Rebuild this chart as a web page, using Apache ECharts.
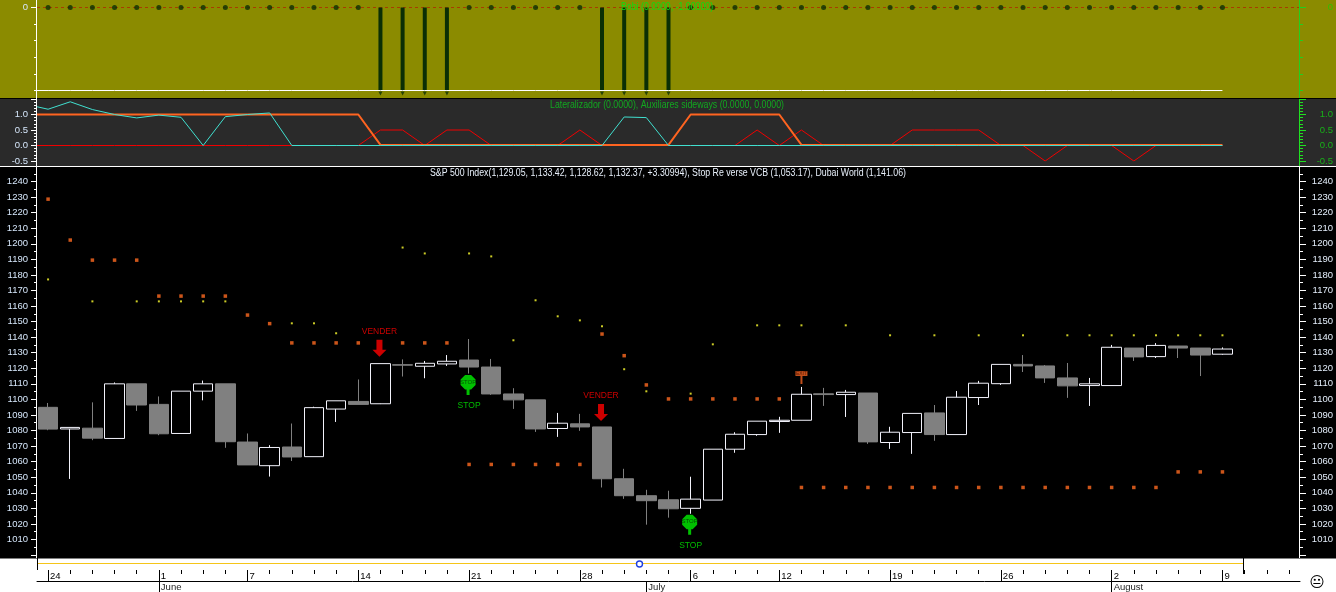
<!DOCTYPE html>
<html>
<head>
<meta charset="utf-8">
<style>html,body{margin:0;padding:0;background:#fff}#main{width:1336px;height:592px}</style>
<script src="https://cdn.jsdelivr.net/npm/echarts@6/dist/echarts.min.js"></script>
</head>
<body>
<div id="main"></div>
<script>
// dates, May 24 to Aug 12 (last three have no bar yet)
var categories = ['05-24','05-25','05-26','05-27','05-28','06-01','06-02','06-03','06-04','06-07','06-08','06-09','06-10','06-11','06-14','06-15','06-16','06-17','06-18','06-21','06-22','06-23','06-24','06-25','06-28','06-29','06-30','07-01','07-02','07-06','07-07','07-08','07-09','07-12','07-13','07-14','07-15','07-16','07-19','07-20','07-21','07-22','07-23','07-26','07-27','07-28','07-29','07-30','08-02','08-03','08-04','08-05','08-06','08-09','08-10','08-11','08-12'];
var dayTicks = ['05-24','06-01','06-07','06-14','06-21','06-28','07-06','07-12','07-19','07-26','08-02','08-09'];
var monthTicks = {'06-01':'June','07-01':'July','08-02':'August'};

// S&P 500 bars
var opens = [1094.9,1081,1081.5,1074.9,1110,1096.8,1078.1,1105.3,1110,1072.6,1057.4,1069.4,1063.2,1093.8,1098.7,1097.2,1122.3,1121.3,1122.8,1125.3,1120.8,1103.5,1099.7,1081.3,1084.3,1082.3,1049,1038.1,1035.5,1030,1035.3,1068,1077.4,1085.8,1086.6,1103.6,1103.1,1104.1,1072.3,1078.7,1091.3,1077.4,1101.2,1110.1,1122.5,1121.5,1113.8,1108.9,1108.9,1133,1127.5,1134.3,1133,1129.05];
var closes = [1080.9,1082,1075.1,1110,1096.4,1077.9,1105.3,1110,1072.8,1057.9,1069.1,1063,1094.7,1099.1,1096.8,1123,1122,1123.2,1124.5,1120.8,1103.5,1099.7,1081,1084.7,1082.3,1049,1038.1,1034.9,1029.7,1035.9,1068,1077.6,1086,1086.6,1103.3,1103.1,1104.6,1072.7,1078.9,1091,1077.4,1101.4,1110.4,1122.5,1121.5,1113.8,1108.7,1110,1133.5,1127.3,1134.7,1133,1128.5,1132.37];
var lows = [1080.2,1048.9,1073.8,1074.9,1092.6,1077,1078.1,1099.4,1068.9,1057.9,1050.4,1060.4,1063.2,1085.5,1096.8,1097,1114.7,1113.6,1121.5,1116.6,1102.9,1093.9,1079.1,1075.9,1079.8,1043.4,1036.1,1019.5,1024,1026.5,1035.3,1065.7,1076.6,1078.5,1086.6,1095.8,1088.7,1071.4,1068.2,1065,1073.4,1077.4,1096.4,1109.3,1117.6,1110.6,1101,1095.8,1108.9,1124.7,1126.6,1126.6,1115,1128.62];
var highs = [1097.7,1082,1098.1,1110.9,1110,1101.9,1105.3,1112.1,1110,1078.1,1070.6,1084.5,1095.3,1099.1,1112.8,1123,1125.7,1124.7,1128.5,1138.8,1126,1107.2,1099.7,1091.3,1090.7,1082.3,1055.4,1041.9,1041.3,1050.3,1068,1078.9,1086,1088.8,1108,1107.4,1106.1,1104.1,1082.4,1091,1096.4,1105.4,1111.9,1122.5,1128.5,1122.1,1123.4,1113.8,1135,1133,1136.2,1134.3,1133,1133.42];

// overlays on the price panel
var stopReverse = [1228.7,1202.4,1189.5,1189.5,1189.5,1166.4,1166.4,1166.4,1166.4,1154.2,1148.7,1136.3,1136.3,1136.3,1136.3,null,1136.3,1136.3,1136.3,1058.2,1058.2,1058.2,1058.2,1058.2,1058.2,1142,1128.1,1109.3,1100.3,1100.3,1100.3,1100.3,1100.3,1100.3,1043.4,1043.4,1043.4,1043.4,1043.4,1043.4,1043.4,1043.4,1043.4,1043.4,1043.4,1043.4,1043.4,1043.4,1043.4,1043.4,1043.4,1053.4,1053.4,1053.4];
var dubaiWorld = [1177.1,null,1163,null,1163,1163,1163,1163,1163,null,null,1148.9,1148.9,1142.5,null,null,1197.6,1193.8,null,1193.8,1191.9,1138,1163.7,1153.4,1150.8,1147,1119.4,1105.2,null,1103.7,1135.4,null,1147.6,1147.6,1147.6,null,1147.6,null,1141.2,null,1141.2,null,1141.2,null,1141.2,null,1141.2,1141.2,1141.2,1141.2,1141.2,1141.2,1141.2,1141.2];
var venderSignals = [[15,1132.8],[25,1091.6]];
var stopSigns = [[19,1109.3],[29,1019.4]];
var stopTexts = [[19,1096.2],[29,1006.3]];
var exitFlags = [[34,1114.1]];

// middle panel, first entry of each is the value at the left edge of the panel
var lateralizador = [1,1,1,1,1,1,1,1,1,1,1,1,1,1,1,1,0.02,0.02,0.02,0.02,0.02,0.02,0.02,0.02,0.02,0.02,0.02,0.02,0.02,0.02,1,1,1,1,1,0.02,0.02,0.02,0.02,0.02,0.02,0.02,0.02,0.02,0.02,0.02,0.02,0.02,0.02,0.02,0.02,0.02,0.02,0.02,0.02];
var auxRed = [0,0,0,0,0,0,0,0,0,0,0,0,0,0,0,0,0.5,0.5,0,0.5,0.5,0,0,0,0,0.5,0,0,0,0,0,0,0,0.5,0,0.5,0,0,0,0,0.5,0.5,0.5,0.5,0,0,-0.5,0,0,0,-0.5,0,0,0,0];
var auxTeal = [1.25,1.17,1.41,1.16,1,0.89,0.98,0.91,0,0.93,1,1.05,0,0,0,0,0,0,0,0,0,0,0,0,0,0,0,0.92,0.9,0,0,0,0,0,0,0,0,0,0,0,0,0,0,0,0,0,0,0,0,0,0,0,0,0,0];

// top panel
var bobi = [0,0,0,0,0,0,0,0,0,0,0,0,0,0,0,-1,-1,-1,-1,0,0,0,0,0,0,-1,-1,-1,-1,0,0,0,0,0,0,0,0,0,0,0,0,0,0,0,0,0,0,0,0,0,0,0,0,0];
var bobiFloor = [-1,-1,-1,-1,-1,-1,-1,-1,-1,-1,-1,-1,-1,-1,-1,-1,-1,-1,-1,-1,-1,-1,-1,-1,-1,-1,-1,-1,-1,-1,-1,-1,-1,-1,-1,-1,-1,-1,-1,-1,-1,-1,-1,-1,-1,-1,-1,-1,-1,-1,-1,-1,-1,-1,-1];

var bobiTitle = 'Bobi (0.0000, -1.00000)';
var lateralTitle = 'Lateralizador (0.0000), Auxiliares sideways (0.0000, 0.0000)';
var priceTitle = 'S&P 500 Index(1,129.05, 1,133.42, 1,128.62, 1,132.37, +3.30994), Stop Re verse VCB (1,053.17), Dubai World (1,141.06)';

var FONT = '"Liberation Sans", Arial, sans-serif';
var LEFT = 37, WIDTH = 1263;

// panels 0 and 1 use a value x axis so that lines can start at the panel edge
function edgePoints(arr) {
  return arr.map(function (v, i) { return [i - 1 < 0 ? -0.5 : i - 1, v]; });
}
function pickBobi(test) {
  var out = [];
  bobi.forEach(function (v, i) { if (test(v)) out.push([i, v]); });
  return out;
}
function isDayTick(index, value) { return dayTicks.indexOf(value) >= 0; }
function isMonthTick(index, value) { return monthTicks[value] !== undefined; }

// each side of a panel has two axes: long ticks with labels, short ticks without
function panelAxes(grid, o) {
  var out = [];
  ['left', 'right'].forEach(function (side) {
    var right = side === 'right';
    var tickColor = right ? o.rightColor : '#fff';
    out.push({
      type: 'value', gridIndex: grid, position: side, min: o.min, max: o.max, interval: o.longStep,
      axisLine: {show: false, onZero: false}, splitLine: {show: false},
      axisTick: {show: true, length: 6, customValues: o.longTicks, lineStyle: {color: tickColor}},
      axisLabel: {show: true, formatter: o.format, align: 'right', margin: right ? 33 : 9, padding: [2, 0, 0, 0],
        color: right ? o.rightText : '#d6e7fb', fontSize: 9.5, fontFamily: FONT}
    });
    out.push({
      type: 'value', gridIndex: grid, position: side, min: o.min, max: o.max, interval: o.shortStep,
      axisLine: {show: false, onZero: false}, splitLine: {show: false},
      axisTick: {show: true, length: 3, lineStyle: {color: tickColor}},
      axisLabel: {show: false}
    });
  });
  return out;
}
var bobiAxis = {min: -1, max: 0, longStep: 1, shortStep: 0.2, longTicks: [0], rightColor: '#20d020', rightText: '#30c000',
  format: function (v) { return v === 0 ? '0' : ''; }};
var lateralAxis = {min: -0.5, max: 1.5, longStep: 0.5, shortStep: 0.1, rightColor: '#20e020', rightText: '#18b018',
  format: function (v) { return v === 1.5 ? '' : v.toFixed(1); }};
var priceAxis = {min: 1000, max: 1250, longStep: 10, shortStep: 5, rightColor: '#fff', rightText: '#e4eefb',
  format: function (v) { return (v === 1000 || v === 1250) ? '' : String(v); }};

function hBar(x1, x2, y, color) {
  return {type: 'rect', silent: true, z: 50, shape: {x: x1, y: y, width: x2 - x1, height: 1}, style: {fill: color}};
}
function vLine(x, y1, y2, color) {
  return {type: 'line', silent: true, z: 50, shape: {x1: x, y1: y1, x2: x, y2: y2}, style: {stroke: color, lineWidth: 1}};
}
function band(y, h, color) {
  return {type: 'rect', silent: true, z: -1, shape: {x: 0, y: y, width: 1336, height: h}, style: {fill: color}};
}
// the source font runs tighter than Liberation Sans, so squeeze the captions
function caption(text, x, y, color) {
  return {type: 'text', silent: true, z: 60, x: x, y: y, scaleX: 0.877,
    style: {text: text, fill: color, font: '10px ' + FONT, verticalAlign: 'top'}};
}

var option = {
  animation: false,
  backgroundColor: '#fff',
  grid: [
    {left: LEFT, width: WIDTH, top: 7.5, height: 83},
    {left: LEFT, width: WIDTH, top: 99, height: 62},
    {left: LEFT, width: WIDTH, top: 166, height: 389}
  ],
  xAxis: [
    {type: 'value', gridIndex: 0, min: -0.5, max: 56.5, show: false},
    {type: 'value', gridIndex: 1, min: -0.5, max: 56.5, show: false},
    {type: 'category', gridIndex: 2, data: categories, show: false},
    // small tick on every day
    {type: 'category', gridIndex: 2, data: categories, position: 'bottom', offset: 15,
      axisLine: {show: false},
      axisTick: {show: true, interval: 0, alignWithLabel: true, length: 4, lineStyle: {color: '#000'}},
      axisLabel: {show: false}},
    // long tick and number on the first day of a week
    {type: 'category', gridIndex: 2, data: categories, position: 'bottom', offset: 15,
      axisLine: {show: false},
      axisTick: {show: true, interval: isDayTick, alignWithLabel: true, length: 11, lineStyle: {color: '#000'}},
      axisLabel: {show: true, interval: isDayTick, align: 'left', margin: 1, padding: [0, 0, 0, 2], color: '#000', fontSize: 9.5, fontFamily: FONT,
        formatter: function (v) { return String(Number(v.slice(3))); }}},
    // months
    {type: 'category', gridIndex: 2, data: categories, position: 'bottom', offset: 26,
      axisLine: {show: true, lineStyle: {color: '#000', width: 1}},
      axisTick: {show: true, interval: isMonthTick, alignWithLabel: true, length: 11, lineStyle: {color: '#000'}},
      axisLabel: {show: true, interval: isMonthTick, align: 'left', margin: 1, padding: [0, 0, 0, 2], color: '#222', fontSize: 9.5, fontFamily: FONT,
        formatter: function (v) { return monthTicks[v] || ''; }}}
  ],
  yAxis: panelAxes(0, bobiAxis).concat(panelAxes(1, lateralAxis), panelAxes(2, priceAxis)),
  series: [
    // top panel
    {name: 'Bobi bars', type: 'bar', xAxisIndex: 0, yAxisIndex: 0, barWidth: 4, silent: true,
      data: pickBobi(function (v) { return v < 0; }), itemStyle: {color: '#0b2f05'}},
    {name: 'Bobi pins', type: 'scatter', xAxisIndex: 0, yAxisIndex: 0, silent: true, clip: false,
      symbol: 'triangle', symbolRotate: 180, symbolSize: 4, symbolOffset: [0, 3],
      data: pickBobi(function (v) { return v < 0; }), itemStyle: {color: '#0b2f05'}},
    {name: 'Bobi', type: 'scatter', xAxisIndex: 0, yAxisIndex: 0, silent: true,  clip: false,
      symbol: 'circle', symbolSize: 5,
      data: pickBobi(function (v) { return v === 0; }), itemStyle: {color: '#0b2f05'},
      markLine: {silent: true, symbol: 'none', label: {show: false}, z: 1,
        lineStyle: {color: '#a83c00', type: [3, 3], width: 1}, data: [{yAxis: 0}]}},
    {name: 'Bobi floor', type: 'line', xAxisIndex: 0, yAxisIndex: 0, silent: true, showSymbol: false,
      data: edgePoints(bobiFloor), lineStyle: {color: '#fff', width: 1}},

    // middle panel
    {name: 'Auxiliar red', type: 'line', xAxisIndex: 1, yAxisIndex: 4, silent: true, showSymbol: false,
      data: edgePoints(auxRed), lineStyle: {color: '#f00000', width: 1}},
    {name: 'Lateralizador', type: 'line', xAxisIndex: 1, yAxisIndex: 4, silent: true, showSymbol: false,
      data: edgePoints(lateralizador), lineStyle: {color: '#ff6420', width: 2}},
    {name: 'Auxiliar teal', type: 'line', xAxisIndex: 1, yAxisIndex: 4, silent: true, showSymbol: false,
      data: edgePoints(auxTeal), lineStyle: {color: '#40e0d0', width: 1}},

    // price panel
    {name: 'S&P 500 Index', type: 'candlestick', xAxisIndex: 2, yAxisIndex: 8, silent: true, barWidth: 20,
      data: opens.map(function (o, i) { return [o, closes[i], lows[i], highs[i]]; }),
      itemStyle: {color: '#000', color0: '#808080', borderColor: '#f2f2fb', borderColor0: '#808080', borderWidth: 1}},
    {name: 'Stop Reverse VCB', type: 'scatter', xAxisIndex: 2, yAxisIndex: 8, silent: true,
      symbol: 'rect', symbolSize: 3.5, data: stopReverse, itemStyle: {color: '#ff6a20'}},
    {name: 'Dubai World', type: 'scatter', xAxisIndex: 2, yAxisIndex: 8, silent: true,
      symbol: 'rect', symbolSize: 2, data: dubaiWorld, itemStyle: {color: '#ffff30'}},
    {name: 'Vender', type: 'scatter', xAxisIndex: 2, yAxisIndex: 8, silent: true,
      symbol: 'path://M4,0H10V10H14L7,17L0,10H4Z', symbolSize: [14, 17], symbolOffset: [-1, 0], data: venderSignals,
      itemStyle: {color: '#ff0000'},
      label: {show: true, position: 'top', distance: 4, formatter: 'VENDER', color: '#ff0000', fontSize: 8.5, fontFamily: FONT}},
    {name: 'Stop sign', type: 'scatter', xAxisIndex: 2, yAxisIndex: 8, silent: true,
      symbol: 'path://M4.5,0H10.5L15,4.5V10L10.5,14.5H9V20H6V14.5H4.5L0,10V4.5Z', symbolSize: [15, 20], symbolOffset: [-1, 0], data: stopSigns,
      itemStyle: {color: '#00f000'},
      label: {show: true, position: 'inside', offset: [0, -3], formatter: 'STOP', color: '#003000', fontSize: 6, fontFamily: FONT}},
    {name: 'Stop text', type: 'scatter', xAxisIndex: 2, yAxisIndex: 8, silent: true,
      symbolSize: 1, data: stopTexts, itemStyle: {color: 'rgba(0,0,0,0)'},
      label: {show: true, position: 'inside', formatter: 'STOP', color: '#00e800', fontSize: 8.5, fontFamily: FONT}},
    {name: 'Exit flag', type: 'scatter', xAxisIndex: 2, yAxisIndex: 8, silent: true,
      symbol: 'path://M0,0H12V5H7V13H5V5H0Z', symbolSize: [12, 13], data: exitFlags,
      itemStyle: {color: '#f06020'},
      label: {show: true, position: 'inside', offset: [0, -4], formatter: 'EXIT', color: '#401000', fontSize: 5, fontFamily: FONT}}
  ],
  graphic: {elements: [
    band(0, 98, '#8b8b00'),
    band(98, 1, '#000'),
    band(99, 67, '#2a2a2a'),
    band(166, 1, '#fff'),
    band(167, 391.5, '#000'),
    // axis lines, longer than the plotting areas
    vLine(36.5, 0, 558, '#fff'),
    vLine(37.5, 558, 570, '#000'),
    vLine(1299.5, 0, 98, '#20d020'),
    vLine(1299.5, 99, 166, '#20e020'),
    vLine(1299.5, 167, 558, '#fff'),
    caption(bobiTitle, 621, 2, '#10dc10'),
    caption(lateralTitle, 550, 100, '#12a820'),
    caption(priceTitle, 430, 168, '#e8f0fb'),
    // time strip
    hBar(38, 1243, 563, '#f5c518'),
    vLine(1243.5, 558, 574, '#000'),
    {type: 'circle', silent: true, z: 51, shape: {cx: 639.5, cy: 564, r: 3}, style: {fill: '#fff', stroke: '#2040e0', lineWidth: 1.4}},
    hBar(637.5, 641.5, 563.5, '#2040e0'),
    {type: 'text', silent: true, z: 51, style: {x: 1317, y: 583, text: '\uD83D\uDE10', align: 'center', verticalAlign: 'middle', font: '15px "DejaVu Sans"', fill: '#000'}}
  ]}
};

var myChart = echarts.init(document.getElementById('main'));
myChart.setOption(option);
</script>
</body>
</html>
